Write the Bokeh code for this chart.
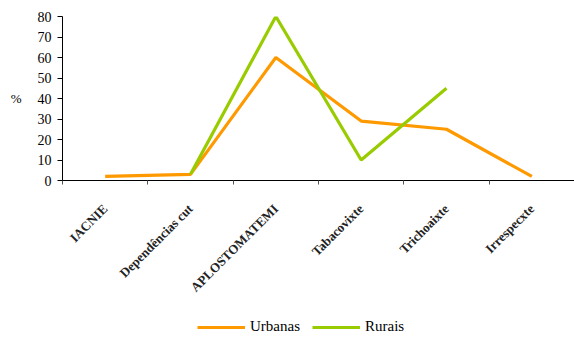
from bokeh.plotting import figure
from bokeh.layouts import column
from bokeh.models import FixedTicker, Legend, LegendItem, ColumnDataSource, Range1d
from bokeh.embed import file_html
from bokeh.resources import INLINE
from math import pi, nan

categories = ["IACNIE", "Dependências cut", "APLOSTOMATEMI", "Tabacovixte", "Trichoaixte", "Irrespecxte"]
urbanas = [2, 3, 60, 29, 25, 2]
rurais = [None, 3, 80, 10, 45, None]
y_ticks = [0, 10, 20, 30, 40, 50, 60, 70, 80]

URB_COLOR = "#FF9900"
RUR_COLOR = "#99CC00"

xs = [i + 0.5 for i in range(len(categories))]

p = figure(width=574, height=303, output_backend="svg", toolbar_location=None,
           x_range=Range1d(0, len(categories)), y_range=Range1d(0, 80),
           min_border_left=62, min_border_right=0, min_border_top=16, min_border_bottom=123)
p.outline_line_color = None
p.grid.visible = False
p.background_fill_color = "white"
p.border_fill_color = "white"

urb_src = ColumnDataSource(dict(x=xs, y=urbanas))
rur_x = [x for x, v in zip(xs, rurais) if v is not None]
rur_y = [v for v in rurais if v is not None]
rur_src = ColumnDataSource(dict(x=rur_x, y=rur_y))

p.line("x", "y", source=urb_src, line_color=URB_COLOR, line_width=3.2)
p.line("x", "y", source=rur_src, line_color=RUR_COLOR, line_width=3.2)

# y axis
ya = p.yaxis[0]
ya.ticker = FixedTicker(ticks=y_ticks)
ya.axis_line_color = "black"
ya.major_tick_line_color = "black"
ya.major_tick_out = 5
ya.major_tick_in = 0
ya.minor_tick_line_color = None
ya.major_label_standoff = 6
ya.major_label_text_font = "Liberation Serif"
ya.major_label_text_font_size = "14px"
ya.major_label_text_color = "black"
ya.axis_label = "%"
ya.axis_label_text_font = "Liberation Serif"
ya.axis_label_text_font_size = "13px"
ya.axis_label_text_font_style = "normal"
ya.axis_label_text_color = "black"
ya.axis_label_standoff = 13
if "axis_label_orientation" in ya.properties():
    ya.axis_label_orientation = "horizontal"

# x axis: category names at band centres, separators at band edges
xa = p.xaxis[0]
xa.ticker = FixedTicker(ticks=xs, minor_ticks=list(range(len(categories) + 1)))
xa.major_label_overrides = {x: c for x, c in zip(xs, categories)}
xa.major_tick_line_color = None
xa.minor_tick_line_color = "#555555"
xa.minor_tick_out = 4
xa.minor_tick_in = 0
xa.axis_line_color = "black"
xa.major_label_orientation = pi / 4
xa.major_label_standoff = 20
xa.major_label_text_font = "Liberation Serif"
xa.major_label_text_font_style = "bold"
xa.major_label_text_font_size = "13px"
xa.major_label_text_color = "#222222"

# legend strip underneath the chart; its proxy lines hold no drawable points
lg = figure(width=574, height=35, output_backend="svg", toolbar_location=None,
            x_range=Range1d(0, 1), y_range=Range1d(0, 1),
            x_axis_type=None, y_axis_type=None,
            min_border_left=0, min_border_right=0, min_border_top=0, min_border_bottom=0)
lg.outline_line_color = None
lg.grid.visible = False
proxy = ColumnDataSource(dict(x=[nan], y=[nan]))
l_urb = lg.line("x", "y", source=proxy, line_color=URB_COLOR, line_width=3.2)
l_rur = lg.line("x", "y", source=proxy, line_color=RUR_COLOR, line_width=3.2)

legend = Legend(items=[LegendItem(label="Urbanas", renderers=[l_urb]),
                       LegendItem(label="Rurais", renderers=[l_rur])],
                orientation="horizontal", location=(135, 3))
legend.label_text_font = "Liberation Serif"
legend.label_text_font_size = "15px"
legend.label_text_color = "black"
legend.glyph_width = 48
legend.glyph_height = 14
legend.label_standoff = 5
legend.spacing = 12
legend.padding = 0
legend.margin = 0
legend.border_line_color = None
legend.background_fill_alpha = 0
lg.add_layout(legend, "center")

layout = column(p, lg, spacing=0)
open("out.html", "w").write(file_html(layout, INLINE))
